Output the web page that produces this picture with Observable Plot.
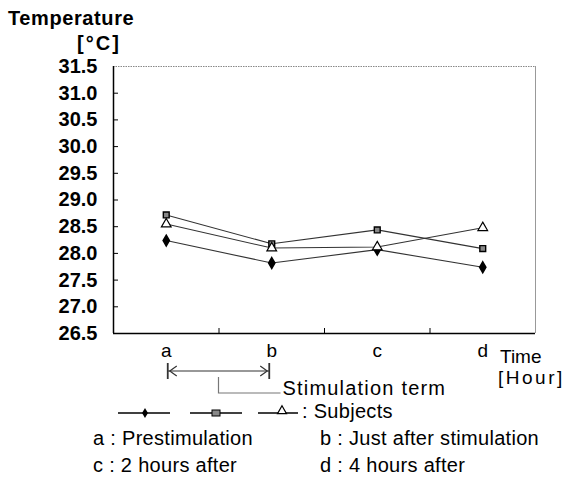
<!DOCTYPE html>
<html><head><meta charset="utf-8">
<script src="https://cdn.jsdelivr.net/npm/d3@7"></script>
<script src="https://cdn.jsdelivr.net/npm/@observablehq/plot@0.6"></script>
<style>
body{margin:0;background:#fff}
svg{display:block}
</style>
</head><body><div id="chart"></div>
<script>
// ---- data ----
const categories = ["a", "b", "c", "d"];
const subjectDiamond = [28.24, 27.82, 28.07, 27.74];
const subjectSquare = [28.72, 28.18, 28.44, 28.09];
const subjectTriangle = [28.55, 28.10, 28.12, 28.48];
const yTicks = [26.5, 27.0, 27.5, 28.0, 28.5, 29.0, 29.5, 30.0, 30.5, 31.0, 31.5];
const yTitle = ["Temperature", "[°C]"];
const xTitle = ["Time", "[Hour]"];
const stimulationLabel = "Stimulation term";
const legendLabel = ": Subjects";
const notes = [["a : Prestimulation", "b : Just after stimulation"], ["c : 2 hours after", "d : 4 hours after"]];

(function () {
const series = [
  {name: "S1", values: subjectDiamond},
  {name: "S2", values: subjectSquare},
  {name: "S3", values: subjectTriangle}
];
const rows = series.flatMap(s => s.values.map((v, i) => ({series: s.name, cat: categories[i], pos: i + 0.5, value: v})));
const catPos = categories.map((c, i) => i + 0.5);
const boundaries = categories.slice(1).map((c, i) => i + 1);

const FONT = "'Liberation Sans', Arial, sans-serif";
const W = 569, H = 496;

const plot = Plot.plot({
  width: W, height: H,
  marginLeft: 113, marginRight: 34, marginTop: 66, marginBottom: 163,
  style: {fontFamily: FONT, background: "#fff", color: "#000", overflow: "visible"},
  x: {type: "linear", domain: [0, categories.length], axis: null},
  y: {domain: [26.5, 31.5], axis: null},
  marks: [
    Plot.ruleY([31.5], {stroke: "#888", strokeWidth: 1, strokeDasharray: "1.5,1"}),
    Plot.ruleX([categories.length], {stroke: "#999", strokeWidth: 1}),
    Plot.ruleX([0], {stroke: "#000", strokeWidth: 1.5}),
    Plot.ruleY([26.5], {stroke: "#000", strokeWidth: 1.5}),
    Plot.axisY({ticks: yTicks, label: null, tickSize: 0, tickPadding: 16, tickFormat: d3.format(".1f"), fontSize: 20, fontWeight: "bold", fill: "#000", letterSpacing: 0.8}),
    Plot.axisY({ticks: yTicks.slice(1, -1), label: null, tickSize: 5, dx: 5, tickFormat: () => "", stroke: "#000"}),
    Plot.axisX({ticks: boundaries, label: null, tickSize: 5, dy: -5, tickFormat: () => "", stroke: "#000"}),
    Plot.axisX({ticks: catPos, label: null, tickSize: 0, tickPadding: 10, tickFormat: d => categories[Math.floor(d)], fontSize: 19, fill: "#000"}),
    Plot.line(rows, {x: "pos", y: "value", z: "series", stroke: "#333", strokeWidth: 1.1}),
    Plot.dot(rows.filter(d => d.series === "S1"), {x: "pos", y: "value", symbol: "diamond", r: 3.3, fill: "#000", stroke: "#000"}),
    Plot.dot(rows.filter(d => d.series === "S2"), {x: "pos", y: "value", symbol: "square", r: 3.3, fill: "#888", stroke: "#000", strokeWidth: 1.4}),
    Plot.dot(rows.filter(d => d.series === "S3"), {x: "pos", y: "value", symbol: "triangle", r: 3.6, fill: "#fff", stroke: "#000", strokeWidth: 1.2})
  ]
});
document.getElementById("chart").appendChild(plot);

// ---- annotations ----
const svg = d3.select(plot);
const xs = plot.scale("x"), ys = plot.scale("y");
const X = v => xs.apply(v), Y = v => ys.apply(v);
const fRight = X(categories.length), fBottom = Y(26.5);

function txt(x, y, s, size, opts = {}) {
  return svg.append("text").attr("x", x).attr("y", y).attr("font-size", size)
    .attr("font-family", FONT).attr("fill", "#000")
    .attr("text-anchor", opts.anchor || "start")
    .attr("font-weight", opts.weight || "normal")
    .attr("letter-spacing", opts.ls || 0)
    .attr("dominant-baseline", "middle").text(s);
}
txt(8, 20, yTitle[0], 20, {weight: "bold", ls: 0.6});
txt(99, 45, yTitle[1], 20, {anchor: "middle", weight: "bold", ls: 2});
txt(fRight - 35, fBottom + 25, xTitle[0], 19);
txt(fRight - 37, fBottom + 46, xTitle[1], 19, {ls: 2.5});

const ax = X(catPos[0]) + 2, bx = X(catPos[1]) - 2, ay = fBottom + 38;
const g = svg.append("g").attr("stroke", "#333").attr("fill", "none").attr("stroke-width", 1.2);
g.append("line").attr("x1", ax).attr("x2", bx).attr("y1", ay).attr("y2", ay);
g.append("line").attr("x1", ax).attr("x2", ax).attr("y1", ay - 8).attr("y2", ay + 8).attr("stroke-width", 1.8);
g.append("line").attr("x1", bx).attr("x2", bx).attr("y1", ay - 8).attr("y2", ay + 8).attr("stroke-width", 1.8);
g.append("path").attr("d", `M${ax + 9},${ay - 5}L${ax + 2},${ay}L${ax + 9},${ay + 5}`);
g.append("path").attr("d", `M${bx - 9},${ay - 5}L${bx - 2},${ay}L${bx - 9},${ay + 5}`);
const mx = (ax + bx) / 2;
g.append("path").attr("d", `M${mx},${ay + 6}V${ay + 22}H${mx + 62}`).attr("stroke", "#777");
txt(mx + 64, ay + 19, stimulationLabel, 20, {ls: 1.2});

const ly = fBottom + 80;
const leg = svg.append("g");
const legendItems = [
  {x1: 118, x2: 170, mx: 145, sym: "diamond"},
  {x1: 190, x2: 242, mx: 216, sym: "square"},
  {x1: 258, x2: 298, mx: 282, sym: "triangle"}
];
legendItems.forEach(it => {
  leg.append("line").attr("x1", it.x1).attr("x2", it.x2).attr("y1", ly).attr("y2", ly).attr("stroke", "#000").attr("stroke-width", 1.3);
  const t = `translate(${it.mx},${ly})`;
  if (it.sym === "diamond") leg.append("path").attr("d", d3.symbol(d3.symbolDiamond, 30)()).attr("transform", t).attr("fill", "#000");
  if (it.sym === "square") leg.append("rect").attr("x", it.mx - 4).attr("y", ly - 3).attr("width", 8).attr("height", 6).attr("fill", "#888").attr("stroke", "#000");
  if (it.sym === "triangle") leg.append("path").attr("d", d3.symbol(d3.symbolTriangle, 35)()).attr("transform", `translate(${it.mx},${ly - 2})`).attr("fill", "#fff").attr("stroke", "#000").attr("stroke-width", 1.2);
});
txt(302, ly, legendLabel, 20, {ls: 0.3});

notes.forEach((row, r) => {
  txt(93, ly + 27 + r * 27, row[0], 20, {ls: 0.3});
  txt(320, ly + 27 + r * 27, row[1], 20, {ls: 0.3});
});
})();
</script>
</body></html>
